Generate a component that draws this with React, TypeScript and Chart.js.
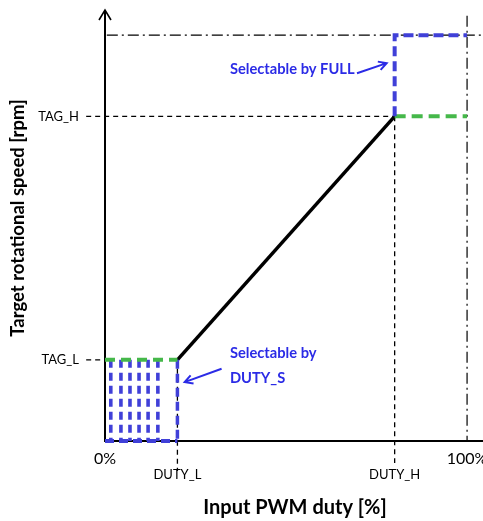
import React, { useEffect, useRef } from 'react';
import { Chart, registerables } from 'chart.js';

Chart.register(...registerables);

// ---- axis extents (data units) ----
const X_MAX = 104.4;
const Y_MAX = 106.2;

// ---- tick labels ----
const xMajorTicks = [0, 100];
const xMajorLabels = ['0%', '100%'];
const xMinorTicks = [20, 80];
const xMinorLabels = ['DUTY_L', 'DUTY_H'];
const yTicks = [20, 80];
const yLabels = ['TAG_L', 'TAG_H'];

// ---- titles / notes ----
const xTitle = 'Input PWM duty [%]';
const yTitle = 'Target rotational speed [rpm]';
const noteFull = ['Selectable by FULL'];
const noteDutyS = ['Selectable by', 'DUTY_S'];

// ---- series ----
const rampX = [20, 80];
const rampY = [20, 80];
const tagLowX = [0, 20];
const tagLowY = [20, 20];
const tagHighX = [80, 100];
const tagHighY = [80, 80];
const fullX = [80, 80, 100];
const fullY = [80, 100, 100];
const dutySInnerX = [1.6, 4.4, 6.9, 9.4, 11.9, 14.6];
const dutySInnerY = [20, 0];
const dutySEdgeX = [20, 20];
const dutySEdgeY = [20, 0];
const dutySBaseX = [0, 20];
const dutySBaseY = [0, 0];

// ---- guides ----
const guideTagHX = [-5.2, 80];
const guideTagHY = [80, 80];
const guideTagLX = [-5.2, 0];
const guideTagLY = [20, 20];
const guideDutyLX = [20, 20];
const guideDutyLY = [20, -7.4];
const guideDutyHX = [80, 80];
const guideDutyHY = [80, -5.4];
const fullRefX = [0.5, 104.4];
const fullRefY = [100, 100];
const maxDutyX = [100, 100];
const maxDutyY = [104.8, 0];

// ---- annotation anchors (data units) ----
const noteFullPos = [34.5, 91.6];
const noteFullArrow = [[69.6, 90.6], [77.8, 93.1]];
const noteDutySPos = [34.5, 21.7];
const noteDutySArrow = [[32.2, 17.8], [22.0, 14.5]];

const BLUE = '#4040d8';
const BLUE_TEXT = '#2b2be6';
const GREEN = '#45b84a';
const FONT = 'Lato, "Open Sans", sans-serif';

const pts = (xs: number[], ys: number[]) => xs.map((x, i) => ({ x, y: ys[i] }));

const line = (xs: number[], ys: number[], color: string, width: number, dash: number[]) => ({
  data: pts(xs, ys),
  showLine: true,
  borderColor: color,
  borderWidth: width,
  borderDash: dash,
  pointRadius: 0,
  pointHoverRadius: 0,
  fill: false,
  clip: false as any,
  tension: 0,
  borderCapStyle: 'butt' as const,
  borderJoinStyle: 'miter' as const,
});

function arrow(ctx: CanvasRenderingContext2D, x1: number, y1: number, x2: number, y2: number) {
  const a = Math.atan2(y2 - y1, x2 - x1);
  const L = 9;
  const s = 0.5;
  ctx.beginPath();
  ctx.moveTo(x1, y1);
  ctx.lineTo(x2, y2);
  ctx.moveTo(x2 - L * Math.cos(a - s), y2 - L * Math.sin(a - s));
  ctx.lineTo(x2, y2);
  ctx.lineTo(x2 - L * Math.cos(a + s), y2 - L * Math.sin(a + s));
  ctx.stroke();
}

const overlay = {
  id: 'overlay',
  beforeDatasetsDraw(chart: any) {
    const { ctx, chartArea } = chart;
    const { left, top, right, bottom } = chartArea;
    ctx.save();
    ctx.strokeStyle = '#000';
    ctx.lineWidth = 2;
    ctx.setLineDash([]);
    ctx.beginPath();
    ctx.moveTo(left, bottom + 1);
    ctx.lineTo(left, top);
    ctx.moveTo(left, bottom);
    ctx.lineTo(right, bottom);
    ctx.stroke();
    ctx.lineWidth = 1.6;
    ctx.beginPath();
    ctx.moveTo(left - 6, top + 10);
    ctx.lineTo(left, top);
    ctx.lineTo(left + 6, top + 10);
    ctx.stroke();
    ctx.restore();
  },
  afterDraw(chart: any) {
    const { ctx, chartArea } = chart;
    const xs = chart.scales.x;
    const ys = chart.scales.y;
    ctx.save();
    ctx.fillStyle = '#000';
    ctx.textBaseline = 'middle';
    ctx.textAlign = 'center';
    ctx.font = `16px ${FONT}`;
    xMajorTicks.forEach((v, i) => {
      ctx.fillText(xMajorLabels[i], xs.getPixelForValue(v), chartArea.bottom + 18);
    });
    ctx.font = `13px ${FONT}`;
    xMinorTicks.forEach((v, i) => {
      ctx.fillText(xMinorLabels[i], xs.getPixelForValue(v), chartArea.bottom + 34);
    });
    ctx.textAlign = 'right';
    yTicks.forEach((v, i) => {
      ctx.fillText(yLabels[i], chartArea.left - 26, ys.getPixelForValue(v));
    });
    // titles
    ctx.textAlign = 'center';
    ctx.font = `bold 20px ${FONT}`;
    ctx.fillText(xTitle, 295, chartArea.bottom + 67);
    ctx.save();
    ctx.translate(18, 218);
    ctx.rotate(-Math.PI / 2);
    ctx.font = `bold 18.5px ${FONT}`;
    ctx.fillText(yTitle, 0, 0);
    ctx.restore();
    // notes
    ctx.fillStyle = BLUE_TEXT;
    ctx.strokeStyle = BLUE_TEXT;
    ctx.lineWidth = 2;
    ctx.textAlign = 'left';
    ctx.font = `bold 14.7px ${FONT}`;
    noteFull.forEach((t, i) => {
      ctx.fillText(t, xs.getPixelForValue(noteFullPos[0]), ys.getPixelForValue(noteFullPos[1]) + i * 24);
    });
    noteDutyS.forEach((t, i) => {
      ctx.fillText(t, xs.getPixelForValue(noteDutySPos[0]), ys.getPixelForValue(noteDutySPos[1]) + i * 25);
    });
    const ar = (p: number[][]) =>
      arrow(ctx, xs.getPixelForValue(p[0][0]), ys.getPixelForValue(p[0][1]), xs.getPixelForValue(p[1][0]), ys.getPixelForValue(p[1][1]));
    ar(noteFullArrow);
    ar(noteDutySArrow);
    ctx.restore();
  },
};

export default function App() {
  const ref = useRef<HTMLCanvasElement | null>(null);
  useEffect(() => {
    if (!ref.current) return;
    const dashDot = [11, 4, 2, 4];
    const guideDash = [5, 4];
    const blueDash = [9, 5];
    const datasets: any[] = [
      line(fullX, fullY, BLUE, 4, [10, 5]),
      line(tagLowX, tagLowY, GREEN, 4, [10, 6]),
      line(tagHighX, tagHighY, GREEN, 4, [11, 6]),
      line(dutySEdgeX, dutySEdgeY, BLUE, 3.5, blueDash),
      ...dutySInnerX.map((x) => line([x, x], dutySInnerY, BLUE, 3.6, [8, 5])),
      line(dutySBaseX, dutySBaseY, BLUE, 4, blueDash),
      line(rampX, rampY, '#000', 3.5, []),
      line(guideTagHX, guideTagHY, '#000', 1.3, guideDash),
      line(guideTagLX, guideTagLY, '#000', 1.3, guideDash),
      line(guideDutyLX, guideDutyLY, '#000', 1.3, guideDash),
      line(guideDutyHX, guideDutyHY, '#000', 1.3, guideDash),
      line(fullRefX, fullRefY, '#000', 1.2, dashDot),
      line(maxDutyX, maxDutyY, '#000', 1.2, dashDot),
    ];
    const chart = new Chart(ref.current, {
      type: 'scatter',
      data: { datasets },
      options: {
        animation: false,
        responsive: false,
        events: [],
        layout: { padding: { left: 105, right: 0, top: 10, bottom: 80 } },
        plugins: { legend: { display: false }, tooltip: { enabled: false } },
        scales: {
          x: { type: 'linear', min: 0, max: X_MAX, display: false },
          y: { type: 'linear', min: 0, max: Y_MAX, display: false },
        },
      },
      plugins: [overlay],
    });
    return () => chart.destroy();
  }, []);
  return (
    <div style={{ position: 'fixed', left: 0, top: 0, width: 483, height: 521, background: '#fff' }}>
      <canvas ref={ref} width={483} height={521} style={{ display: 'block' }} />
    </div>
  );
}
